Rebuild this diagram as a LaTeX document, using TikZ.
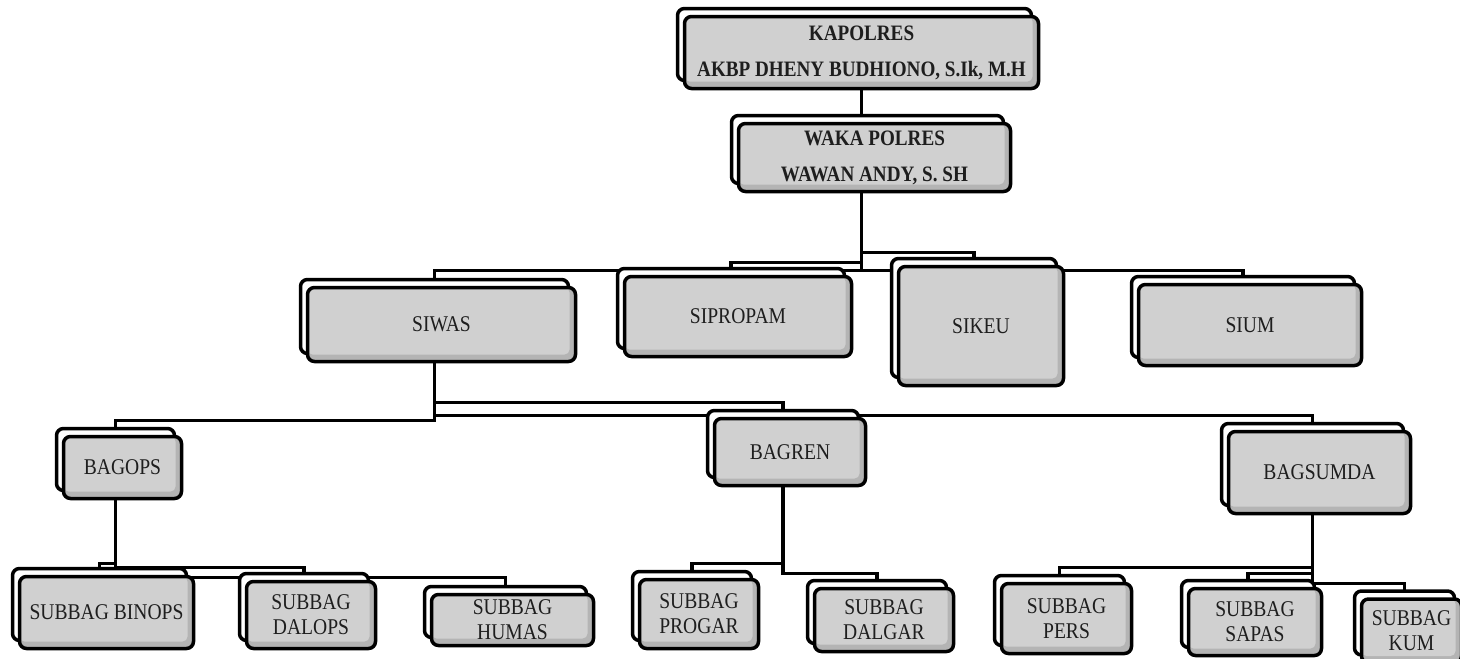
\documentclass[tikz,border=0pt]{standalone}
\usepackage{fontspec}
\setmainfont{Liberation Serif}[FakeStretch=0.87]
\usepackage{tikz}
\usetikzlibrary{shadows, backgrounds}
\definecolor{boxfill}{HTML}{D0D0D0}
\definecolor{boxshade}{HTML}{B4B4B4}
\definecolor{boxtext}{HTML}{1E1E1E}

\begin{document}
\begin{tikzpicture}[
  x=1pt, y=-1pt,
  unit/.style={draw, line width=3.5pt, rounded corners=7pt, fill=boxfill, align=center, inner sep=0pt,
    text=boxtext, font=\fontsize{22.5}{25}\selectfont,
    general shadow={shadow xshift=-7pt, shadow yshift=8pt, fill=white, draw=black, line width=3.5pt},
    path picture={
      \fill[boxshade] (path picture bounding box.south west) rectangle (path picture bounding box.north east);
      \fill[boxfill, rounded corners=5pt] (path picture bounding box.north west) rectangle ([shift={(-6pt,7pt)}]path picture bounding box.south east);
    }},
  head/.style={unit, font=\fontsize{22}{36}\selectfont\bfseries},
  wh/.style 2 args={minimum width=#1pt, minimum height=#2pt},
  conn/.style={line width=3.3pt}
]
\useasboundingbox (0,0) rectangle (1460,659);

% pimpinan
\node[head, wh={354}{72}] (kapolres) at (861.5,52.5) {KAPOLRES\\AKBP DHENY BUDHIONO, S.Ik, M.H};
\node[head, wh={272}{68}] (waka)     at (874.5,157.5) {WAKA POLRES\\WAWAN ANDY, S. SH};

% seksi
\node[unit, wh={268}{74}]  (siwas)    at (441.5,324.5) {SIWAS};
\node[unit, wh={227}{80}]  (sipropam) at (738,316.5)   {SIPROPAM};
\node[unit, wh={165}{119}] (sikeu)    at (981,326)     {SIKEU};
\node[unit, wh={223}{81}]  (sium)     at (1250,325)    {SIUM};

% bagian
\node[unit, wh={118}{62}] (bagops)   at (122.5,467.5)  {BAGOPS};
\node[unit, wh={151}{67}] (bagren)   at (790,452)      {BAGREN};
\node[unit, wh={182}{82}] (bagsumda) at (1319.5,472.5) {BAGSUMDA};

% sub bagian
\node[unit, wh={174}{72}] (binops) at (106.5,612.5) {SUBBAG BINOPS};
\node[unit, wh={129}{67}] (dalops) at (311,615)     {SUBBAG\\DALOPS};
\node[unit, wh={162}{51}] (humas)  at (512.5,620)   {SUBBAG\\HUMAS};
\node[unit, wh={119}{69}] (progar) at (699,614)     {SUBBAG\\PROGAR};
\node[unit, wh={139}{63}] (dalgar) at (884,620)     {SUBBAG\\DALGAR};
\node[unit, wh={130}{70}] (pers)   at (1066.5,618.5) {SUBBAG\\PERS};
\node[unit, wh={133}{67}] (sapas)  at (1255,622)    {SUBBAG\\SAPAS};
\node[unit, wh={100}{64}] (kum)    at (1411.5,631)  {SUBBAG\\KUM};

\begin{pgfonlayer}{background}
\draw[conn] (kapolres.south) -- (kapolres.south |- waka.center);
\coordinate (wk) at (waka.south -| kapolres.south);
\foreach \c/\d in {siwas/77, sipropam/69, sikeu/59, sium/77}
  \draw[conn] (wk) -- ++(0,\d) -| ([xshift=-7pt]\c.center);

\coordinate (sw) at ([xshift=-7pt]siwas.south);
\foreach \c/\d in {bagops/57, bagren/39, bagsumda/52}
  \draw[conn] (sw) -- ++(0,\d) -| ([xshift=-7pt]\c.center);

\coordinate (bo) at ([xshift=-7pt]bagops.south);
\foreach \c/\d in {binops/63, dalops/67, humas/77}
  \draw[conn] (bo) -- ++(0,\d) -| ([xshift=-7pt]\c.center);

\coordinate (br) at ([xshift=-7pt]bagren.south);
\foreach \c/\d in {progar/76, dalgar/86}
  \draw[conn] (br) -- ++(0,\d) -| ([xshift=-7pt]\c.center);

\coordinate (bs) at ([xshift=-7pt]bagsumda.south);
\foreach \c/\d in {pers/52, sapas/58, kum/68}
  \draw[conn] (bs) -- ++(0,\d) -| ([xshift=-7pt]\c.center);
\end{pgfonlayer}

\end{tikzpicture}
\end{document}
